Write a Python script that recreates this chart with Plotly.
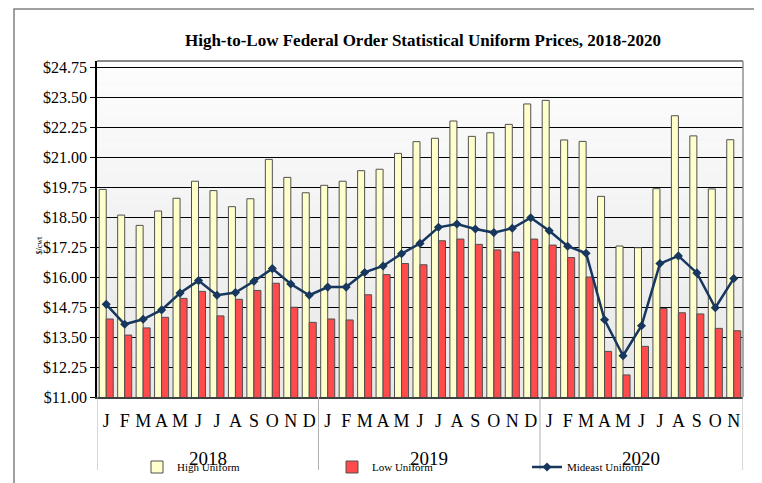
import plotly.graph_objects as go

# ---------------- data ----------------
periods = [
    "Jan 2018", "Feb 2018", "Mar 2018", "Apr 2018", "May 2018", "Jun 2018",
    "Jul 2018", "Aug 2018", "Sep 2018", "Oct 2018", "Nov 2018", "Dec 2018",
    "Jan 2019", "Feb 2019", "Mar 2019", "Apr 2019", "May 2019", "Jun 2019",
    "Jul 2019", "Aug 2019", "Sep 2019", "Oct 2019", "Nov 2019", "Dec 2019",
    "Jan 2020", "Feb 2020", "Mar 2020", "Apr 2020", "May 2020", "Jun 2020",
    "Jul 2020", "Aug 2020", "Sep 2020", "Oct 2020", "Nov 2020",
]
month_letters = [
    "J", "F", "M", "A", "M", "J", "J", "A", "S", "O", "N", "D",
    "J", "F", "M", "A", "M", "J", "J", "A", "S", "O", "N", "D",
    "J", "F", "M", "A", "M", "J", "J", "A", "S", "O", "N",
]
years = ["2018", "2019", "2020"]
year_first = ["Jan 2018", "Jan 2019", "Jan 2020"]
year_last = ["Dec 2018", "Dec 2019", "Nov 2020"]

high_uniform = [
    19.65, 18.58, 18.15, 18.75, 19.28, 19.99, 19.60, 18.93, 19.26, 20.90, 20.15, 19.51,
    19.82, 19.99, 20.43, 20.49, 21.15, 21.64, 21.78, 22.50, 21.86, 22.01, 22.36, 23.21,
    23.36, 21.71, 21.65, 19.36, 17.29, 17.22, 19.68, 22.72, 21.88, 19.67, 21.72,
]
low_uniform = [
    14.25, 13.58, 13.88, 14.32, 15.11, 15.40, 14.38, 15.07, 15.44, 15.74, 14.74, 14.11,
    14.25, 14.21, 15.26, 16.10, 16.56, 16.51, 17.51, 17.58, 17.36, 17.13, 17.04, 17.58,
    17.33, 16.81, 16.00, 12.90, 11.92, 13.11, 14.69, 14.51, 14.46, 13.86, 13.76,
]
mideast_uniform = [
    14.86, 14.03, 14.24, 14.63, 15.33, 15.85, 15.24, 15.35, 15.82, 16.35, 15.71, 15.24,
    15.58, 15.58, 16.19, 16.46, 16.97, 17.40, 18.07, 18.21, 18.00, 17.85, 18.03, 18.47,
    17.93, 17.28, 16.99, 14.22, 12.72, 13.97, 16.56, 16.88, 16.17, 14.72, 15.94,
]
y_ticks = [11.00, 12.25, 13.50, 14.75, 16.00, 17.25, 18.50, 19.75, 21.00, 22.25, 23.50, 24.75]
y_tick_labels = ["$%.2f" % v for v in y_ticks]

# ---------------- figure ----------------
SERIF = "Liberation Serif"
OFF = 8  # default page body margin of the html page
W, H = 762 - OFF, 483 - OFF
ML, MR, MT, MB = 97 - OFF, 19, 61 - OFF, 86
PW, PH = W - ML - MR, H - MT - MB


def px_x(px):
    """screen pixel x -> paper coordinate"""
    return (px - OFF - ML) / PW


def px_y(py):
    """screen pixel y -> paper coordinate"""
    return (H - MB - (py - OFF)) / PH


fig = go.Figure()
fig.add_trace(go.Bar(
    x=periods, y=high_uniform, name="High Uniform",
    marker=dict(color="#FFFFCC", line=dict(color="#505050", width=1)),
))
fig.add_trace(go.Bar(
    x=periods, y=low_uniform, name="Low Uniform",
    marker=dict(color="#FF4B4B", line=dict(color="#505050", width=1)),
))
fig.add_trace(go.Scatter(
    x=periods, y=mideast_uniform, name="Mideast Uniform", mode="lines+markers",
    line=dict(color="#17375E", width=2.5),
    marker=dict(symbol="diamond", size=7, color="#17375E"),
))

shapes = []
# background gradient of plot area
n_bands = 30
for i in range(n_bands):
    t = i / (n_bands - 1)
    c = int(round(253 - 22 * t))
    shapes.append(dict(
        type="rect", xref="paper", yref="paper", layer="below",
        x0=0, x1=1, y0=1 - (i + 1) / n_bands, y1=1 - i / n_bands,
        fillcolor="rgb(%d,%d,%d)" % (c, c, c), line=dict(width=0),
    ))
# year dividers below axis
for first in year_first:
    shapes.append(dict(type="line", xref="x", yref="paper", x0=periods.index(first) - 0.5,
                       x1=periods.index(first) - 0.5, y0=0, y1=px_y(470),
                       line=dict(color="#b0b0b0", width=1)))
shapes.append(dict(type="line", xref="x", yref="paper", x0=len(periods) - 0.5,
                   x1=len(periods) - 0.5, y0=0, y1=px_y(470),
                   line=dict(color="#b0b0b0", width=1)))
# outer frame
shapes.append(dict(type="rect", xref="paper", yref="paper",
                   x0=px_x(14), x1=px_x(757), y0=px_y(495), y1=px_y(9),
                   line=dict(color="#808080", width=1.5), fillcolor="rgba(0,0,0,0)"))

annotations = []
for yr, first, last in zip(years, year_first, year_last):
    xc = (periods.index(first) + periods.index(last)) / 2
    annotations.append(dict(text=yr, x=xc, xref="x", y=px_y(458), yref="paper",
                            showarrow=False, font=dict(family=SERIF, size=19, color="black"),
                            xanchor="center", yanchor="middle"))
annotations.append(dict(text="$/cwt", x=px_x(32), y=px_y(245), xref="paper", yref="paper",
                        textangle=-90, showarrow=False,
                        font=dict(family=SERIF, size=8, color="black")))

fig.update_layout(
    width=W, height=H,
    margin=dict(l=ML, r=MR, t=MT, b=MB, autoexpand=False),
    paper_bgcolor="white", plot_bgcolor="#efefef",
    barmode="group", bargap=0.24, bargroupgap=0.0,
    title=dict(text="High-to-Low Federal Order Statistical Uniform Prices, 2018-2020",
               x=(423 - OFF) / W, xanchor="center", y=1 - (40 - OFF) / H, yanchor="middle",
               font=dict(family=SERIF, size=17, color="black", weight="bold")),
    xaxis=dict(
        type="category", categoryorder="array", categoryarray=periods,
        tickvals=periods, ticktext=month_letters,
        tickfont=dict(family=SERIF, size=18, color="black"),
        ticks="", ticklabelstandoff=7,
        showline=True, linecolor="#404040", linewidth=1.5, mirror=False,
        showgrid=False, automargin=False, range=[-0.5, len(periods) - 0.5],
    ),
    yaxis=dict(
        range=[11, 25.0], tickvals=y_ticks, ticktext=y_tick_labels,
        tickfont=dict(family=SERIF, size=16, color="black"),
        ticks="outside", ticklen=5, tickcolor="black",
        showline=True, linecolor="black", linewidth=1.5,
        showgrid=True, gridcolor="black", gridwidth=1,
        zeroline=False, automargin=False,
    ),
    legend=dict(
        orientation="h", x=px_x(137), xanchor="left", y=px_y(467), yanchor="middle",
        font=dict(family=SERIF, size=11, color="black"), bgcolor="rgba(0,0,0,0)",
        entrywidth=150, itemwidth=30, tracegroupgap=0,
    ),
    shapes=shapes, annotations=annotations,
)
# top and right border of plot area
fig.add_shape(type="line", xref="paper", yref="paper", x0=0, x1=1, y0=1, y1=1,
              line=dict(color="#606060", width=1.5))
fig.add_shape(type="line", xref="paper", yref="paper", x0=1, x1=1, y0=0, y1=1,
              line=dict(color="#909090", width=1.5))

fig.write_html("out.html")
